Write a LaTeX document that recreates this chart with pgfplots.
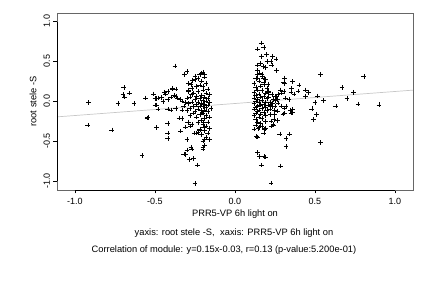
\documentclass[border=0pt]{standalone}
\usepackage{pgfplots}
\pgfplotsset{compat=1.18}
\usepackage{fontspec}
\setmainfont{Liberation Sans}
\begin{document}
\begin{tikzpicture}[x=1pt,y=1pt]
\useasboundingbox (-57,-98) rectangle (375,190);
\begin{axis}[at={(0,0)},anchor=south west, scale only axis, width=356pt, height=177pt,
  xmin=-1.1125, xmax=1.1125, ymin=-1.11, ymax=1.1,
  xtick={-1,-0.5,0,0.5,1}, ytick={-1,-0.5,0,0.5,1},
  /pgf/number format/assume math mode=true,
  xticklabel={\pgfmathprintnumber[fixed,fixed zerofill,precision=1]{\tick}},
  yticklabel={\pgfmathprintnumber[fixed,fixed zerofill,precision=1]{\tick}},
  tick align=outside, major tick length=3.5pt, tick style={black, line width=0.5pt},
  xtick pos=bottom, ytick pos=left,
  axis line style={black!60, line width=0.6pt},
  xticklabel style={font=\fontsize{9}{10}\selectfont, yshift=-1pt},
  yticklabel style={font=\fontsize{9}{10}\selectfont, rotate=90, anchor=south, xshift=0pt},
  clip=true]
\addplot[black!22, line width=0.7pt] coordinates {(-1.1125,-0.1969) (1.1125,0.1369)};
\addplot[only marks, mark=+, mark size=2.3pt, mark options={line width=0.55pt, black}] coordinates {
(-0.914,-0.02) (-0.92,-0.30) (-0.77,-0.36) (-0.695,0.17) (-0.70,0.08) (-0.69,0.05) (-0.66,0.10)
(-0.73,-0.03) (-0.63,-0.03) (-0.58,-0.68) (-0.56,0.04) (-0.55,-0.21) (-0.51,0.09) (-0.50,0.03) (-0.50,-0.05)
(-0.376,0.44) (-0.30,0.37) (-0.315,0.33) (-0.22,0.33) (-0.20,0.36) (-0.21,0.25) (-0.29,0.22) (-0.25,0.27)
(-0.39,0.15) (-0.37,0.15) (-0.44,0.11) (-0.48,0.04) (-0.49,0.03) (-0.45,-0.005) (-0.42,0.02) (-0.40,0.05)
(-0.38,0.07) (-0.36,0.04) (-0.49,-0.05) (-0.48,-0.10) (-0.42,-0.10) (-0.37,-0.09) (-0.545,-0.205) (-0.35,-0.21)
(-0.33,-0.22) (-0.49,-0.33) (-0.42,-0.28) (-0.42,-0.40) (-0.42,-0.47) (-0.34,-0.375) (-0.31,-0.325) (-0.295,-0.27)
(-0.28,-0.31) (-0.30,-0.48) (-0.255,-0.40) (-0.32,-0.66) (-0.31,-0.67) (-0.30,-0.61) (-0.275,-0.58) (-0.27,-0.60)
(-0.285,-0.73) (-0.26,-0.72) (-0.235,-0.80) (-0.25,-1.03) (-0.20,-0.60) (-0.19,-0.55)
(-0.40,-0.11) (-0.33,-0.11) (-0.205,-0.15) (-0.19,-0.21) (-0.20,-0.27) (-0.195,-0.33) (-0.19,-0.48)
(-0.28,-0.18) (-0.27,-0.29) (-0.29,-0.26) (-0.24,-0.40) (-0.23,-0.39) (-0.22,-0.36) (-0.20,-0.58)
(-0.21,0.35) (-0.19,0.33) (-0.265,0.26) (-0.275,0.21) (-0.22,0.20) (-0.20,0.18) (-0.29,0.14) (-0.39,0.16)
(-0.42,0.12) (-0.435,0.09) (-0.46,0.045) (-0.37,0.06)
(-0.25,0.31) (-0.23,0.28) (-0.19,0.30) (-0.18,0.22) (-0.24,0.18) (-0.27,0.16) (-0.17,0.15) (-0.20,0.14)
(-0.23,0.12) (-0.26,0.10) (-0.18,0.10) (-0.16,0.08) (-0.21,0.07) (-0.24,0.06) (-0.28,0.05) (-0.19,0.05)
(-0.17,0.03) (-0.22,0.03) (-0.25,0.02) (-0.20,0.01) (-0.18,0.00) (-0.23,-0.01) (-0.27,-0.01) (-0.16,-0.02)
(-0.21,-0.03) (-0.19,-0.04) (-0.24,-0.04) (-0.29,-0.03) (-0.17,-0.05) (-0.22,-0.06) (-0.20,-0.07) (-0.26,-0.07)
(-0.18,-0.08) (-0.15,-0.09) (-0.23,-0.10) (-0.19,-0.11) (-0.21,-0.12) (-0.17,-0.13) (-0.25,-0.13) (-0.20,-0.15)
(-0.22,-0.17) (-0.18,-0.18) (-0.16,-0.20) (-0.24,-0.20) (-0.19,-0.22) (-0.21,-0.24) (-0.17,-0.26) (-0.23,-0.27)
(-0.20,-0.29) (-0.18,-0.31) (-0.16,-0.34) (-0.22,-0.35) (-0.19,-0.37) (-0.17,-0.40) (-0.21,-0.42) (-0.18,-0.45)
(-0.16,-0.48) (-0.20,-0.50) (-0.33,0.00) (-0.31,-0.02) (-0.30,0.04) (-0.32,-0.06) (-0.34,0.02) (-0.28,-0.09)
(-0.30,-0.12) (-0.27,0.08) (-0.29,0.12) (-0.26,-0.15)
(0.164,0.725) (0.14,0.65) (0.18,0.67) (0.197,0.58) (0.164,0.56) (0.236,0.56) (0.257,0.525) (0.226,0.495)
(0.20,0.495) (0.23,0.45) (0.14,0.45) (0.16,0.47) (0.174,0.43) (0.19,0.42) (0.139,0.39) (0.153,0.35)
(0.168,0.34) (0.26,0.38) (0.31,0.29) (0.139,0.29) (0.18,0.29) (0.36,0.245) (0.536,0.33) (0.805,0.31)
(0.40,0.20) (0.31,0.22) (0.353,0.16) (0.44,0.14) (0.46,0.11) (0.67,0.17) (0.74,0.11) (0.516,0.066)
(0.44,0.06) (0.553,0.008) (0.70,0.03) (0.63,-0.06) (0.77,-0.034) (0.90,-0.046) (0.48,-0.096) (0.51,-0.17)
(0.49,-0.23) (0.36,-0.10) (0.36,-0.14) (0.345,-0.11) (0.30,-0.16) (0.32,-0.07) (0.29,-0.06) (0.27,-0.025)
(0.316,0.04) (0.337,0.02) (0.29,0.10) (0.305,0.12) (0.285,0.14) (0.254,0.06) (0.266,0.02) (0.236,-0.025)
(0.246,-0.11) (0.22,-0.17) (0.242,-0.30) (0.229,-0.31) (0.19,-0.255) (0.17,-0.32) (0.186,-0.35) (0.143,-0.34)
(0.136,-0.44) (0.18,-0.40) (0.28,-0.41) (0.34,-0.41) (0.32,-0.47) (0.536,-0.52) (0.50,-0.02) (0.19,-0.34)
(0.14,-0.45) (0.14,-0.64) (0.153,-0.69) (0.18,-0.69) (0.19,-0.70) (0.164,-0.80) (0.284,-0.81) (0.226,-1.025)
(0.32,-0.57) (0.305,0.23) (0.35,0.115) (0.37,0.09) (0.395,0.125) (0.27,0.09) (0.26,0.06) (0.25,0.01)
(0.225,-0.04) (0.25,-0.06) (0.31,-0.085) (0.31,-0.15) (0.35,-0.15) (0.267,-0.125) (0.246,-0.17) (0.243,-0.23)
(0.237,-0.29) (0.267,-0.24) (0.226,-0.25) (0.21,0.11) (0.207,0.21) (0.18,0.23)
(0.14,0.33) (0.17,0.31) (0.13,0.28) (0.19,0.27) (0.15,0.25) (0.12,0.22) (0.18,0.21) (0.16,0.19)
(0.13,0.17) (0.20,0.16) (0.14,0.14) (0.17,0.13) (0.12,0.11) (0.19,0.10) (0.15,0.09) (0.13,0.07)
(0.18,0.06) (0.16,0.05) (0.12,0.04) (0.20,0.03) (0.14,0.02) (0.17,0.01) (0.13,0.00) (0.19,-0.01)
(0.15,-0.02) (0.12,-0.03) (0.18,-0.04) (0.16,-0.05) (0.14,-0.06) (0.13,-0.08) (0.19,-0.08) (0.17,-0.09)
(0.12,-0.10) (0.15,-0.11) (0.20,-0.12) (0.14,-0.13) (0.18,-0.14) (0.13,-0.15) (0.16,-0.16) (0.12,-0.18)
(0.19,-0.18) (0.15,-0.20) (0.17,-0.22) (0.13,-0.23) (0.14,-0.26) (0.16,-0.28) (0.13,-0.30) (0.15,-0.33)
(0.12,-0.35) (0.17,-0.32) (0.21,0.05) (0.22,-0.02) (0.21,0.12) (0.23,0.08) (0.22,-0.10) (0.21,-0.05)
(0.24,0.02) (0.23,-0.07)
};
\end{axis}
\draw[black, line width=0.6pt] (0,8.7) -- (0,168.3);
\draw[black, line width=0.6pt] (18,0) -- (338,0);
\node[font=\fontsize{9.3}{10}\selectfont] at (178,-24) {PRR5-VP 6h light on};
\node[font=\fontsize{9.3}{10}\selectfont] at (177,-43) {yaxis: root stele -S,\hspace{0.6em}xaxis: PRR5-VP 6h light on};
\node[font=\fontsize{9.3}{10}\selectfont] at (167,-60) {Correlation of module: y=0.15x-0.03, r=0.13 (p-value:5.200e-01)};
\node[font=\fontsize{9.3}{10}\selectfont, rotate=90] at (-24,88.5) {root stele -S};
\end{tikzpicture}
\end{document}
